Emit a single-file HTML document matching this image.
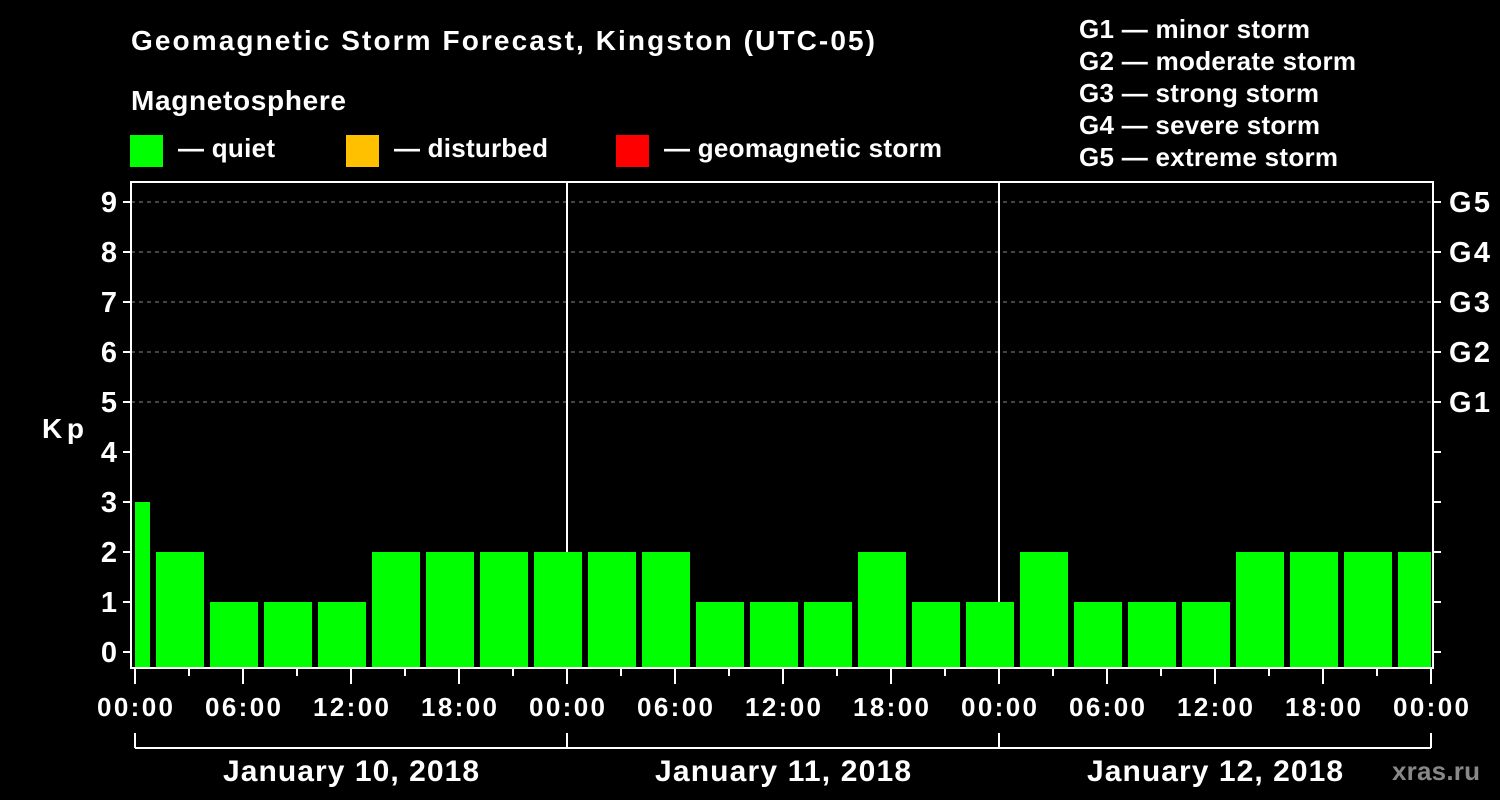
<!DOCTYPE html>
<html><head><meta charset="utf-8"><style>
html,body{margin:0;padding:0;background:#000;}
svg{display:block;font-family:"Liberation Sans",sans-serif;font-weight:bold;}
</style></head><body>
<svg id="chart" width="1500" height="800" viewBox="0 0 1500 800">
<rect x="0" y="0" width="1500" height="800" fill="#000"/>
<text x="131" y="50" fill="#fff" font-size="28" textLength="744">Geomagnetic Storm Forecast, Kingston (UTC-05)</text>
<text x="131" y="110" fill="#fff" font-size="28" textLength="215">Magnetosphere</text>
<g><rect x="130" y="135" width="33" height="32" fill="#00ff00"/><text x="178" y="157" fill="#fff" font-size="26" textLength="97">— quiet</text></g>
<g><rect x="346" y="135" width="33" height="32" fill="#ffc000"/><text x="394" y="157" fill="#fff" font-size="26" textLength="154">— disturbed</text></g>
<g><rect x="616" y="135" width="33" height="32" fill="#ff0000"/><text x="664" y="157" fill="#fff" font-size="26" textLength="278">— geomagnetic storm</text></g>
<g fill="#fff" font-size="26">
<text x="1079" y="38" textLength="231">G1 — minor storm</text>
<text x="1079" y="70" textLength="277">G2 — moderate storm</text>
<text x="1079" y="102" textLength="240">G3 — strong storm</text>
<text x="1079" y="134" textLength="241">G4 — severe storm</text>
<text x="1079" y="166" textLength="259">G5 — extreme storm</text>
</g>
<text x="42" y="438" fill="#fff" font-size="28" textLength="42">Kp</text>
<g id="grid"></g><g id="bars"></g><g id="axes"></g>
<text x="1392" y="780" fill="#888" font-size="26" textLength="88">xras.ru</text>
</svg>
<script>
const kp = [3,2,1,1,1,2,2,2,2,2,2,1,1,1,2,1,1,2,1,1,1,2,2,2,2];
const yTicks = [0,1,2,3,4,5,6,7,8,9];
const gLabels = ["G1","G2","G3","G4","G5"];
const gLevels = [5,6,7,8,9];
const xLabels = ["00:00","06:00","12:00","18:00","00:00","06:00","12:00","18:00","00:00","06:00","12:00","18:00","00:00"];
const days = ["January 10, 2018","January 11, 2018","January 12, 2018"];

const NS="http://www.w3.org/2000/svg";
const L=131,R=1433,T=182,B=668,X0=135,HP=18;
const y=v=>652-v*50;
const xh=h=>X0+h*HP;
function mk(tag,attrs,parent,text){const e=document.createElementNS(NS,tag);for(const k in attrs)e.setAttribute(k,attrs[k]);if(text!==undefined)e.textContent=text;parent.appendChild(e);return e;}
const grid=document.getElementById('grid'),bars=document.getElementById('bars'),axes=document.getElementById('axes');
gLevels.forEach((g,i)=>{
 const ln=mk('line',{x1:L,x2:R,y1:y(g),y2:y(g),stroke:'#888','stroke-dasharray':'4,4','stroke-width':1},grid);
 
 
 const t=mk('text',{x:1449,y:y(g)+10,fill:'#fff','font-size':29,textLength:41},axes,gLabels[i]);
 
 
});
for(let d=1;d<days.length;d++){const ln=mk('line',{x1:xh(24*d),x2:xh(24*d),y1:T,y2:B,stroke:'#fff','stroke-width':2},grid);
 
 }
kp.forEach((v,i)=>{
 const c=xh(-0.5+3*i);let x1=Math.max(c-24,X0),x2=Math.min(c+24,xh(72));
 const col=v>=5?'#ff0000':(v>=4?'#ffc000':'#00ff00');
 const r=mk('rect',{x:x1,y:y(v),width:x2-x1,height:B-y(v),fill:col},bars);
 
 
});
const fr=mk('rect',{x:L,y:T,width:R-L,height:B-T,fill:'none',stroke:'#fff','stroke-width':2},axes);


yTicks.forEach(v=>{
 mk('line',{x1:L-8,x2:L,y1:y(v),y2:y(v),stroke:'#fff','stroke-width':2},axes);
 mk('line',{x1:R,x2:R+8,y1:y(v),y2:y(v),stroke:'#fff','stroke-width':2},axes);
 const t=mk('text',{x:L-14,y:y(v)+10,fill:'#fff','font-size':29,'text-anchor':'end'},axes,String(v));
 
 
});
for(let h=0;h<=72;h+=3){mk('line',{x1:xh(h),x2:xh(h),y1:B,y2:B+(h%6==0?16:8),stroke:'#fff','stroke-width':2},axes);}
xLabels.forEach((s,i)=>{
 const t=mk('text',{x:xh(i*6),y:716,fill:'#fff','font-size':26,'text-anchor':'middle',textLength:76},axes,s);
 
 
});
mk('line',{x1:X0,x2:xh(72),y1:748,y2:748,stroke:'#fff','stroke-width':2},axes);
for(let d=0;d<=days.length;d++)mk('line',{x1:xh(24*d),x2:xh(24*d),y1:733,y2:748,stroke:'#fff','stroke-width':2},axes);
days.forEach((s,i)=>{
 const t=mk('text',{x:xh(24*i+12),y:781,fill:'#fff','font-size':30,'text-anchor':'middle',textLength:256},axes,s);
 
 
});
</script>
</body></html>
